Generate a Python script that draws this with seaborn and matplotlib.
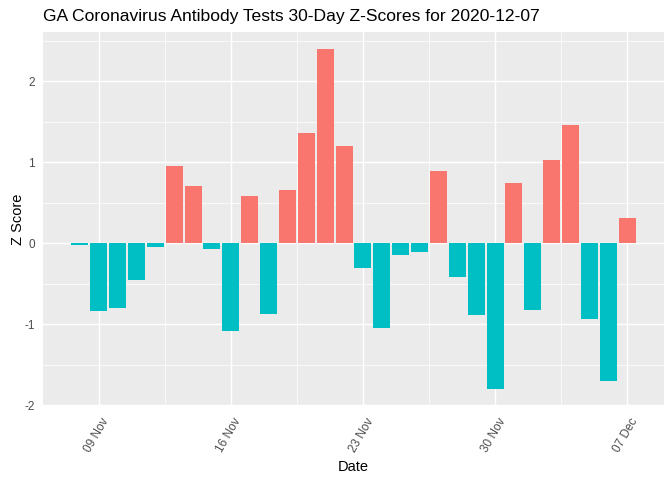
import matplotlib
matplotlib.use("Agg")
import matplotlib.pyplot as plt
import matplotlib.transforms as mtransforms
import seaborn as sns
import numpy as np
import pandas as pd

dates = pd.date_range("2020-11-08", "2020-12-07", freq="D")
z_scores = [-0.025, -0.84, -0.80, -0.46, -0.05, 0.95, 0.71, -0.075, -1.08, 0.58,
            -0.87, 0.66, 1.36, 2.40, 1.20, -0.31, -1.05, -0.15, -0.11, 0.89,
            -0.42, -0.89, -1.80, 0.74, -0.82, 1.03, 1.46, -0.93, -1.70, 0.31]
tick_dates = ["2020-11-09", "2020-11-16", "2020-11-23", "2020-11-30", "2020-12-07"]
tick_labels = ["09 Nov", "16 Nov", "23 Nov", "30 Nov", "07 Dec"]
title = "GA Coronavirus Antibody Tests 30-Day Z-Scores for 2020-12-07"

df = pd.DataFrame({"Date": dates.strftime("%Y-%m-%d"), "Z": z_scores})
df["pos"] = df["Z"] > 0

sns.set_style("whitegrid")
plt.rcParams["font.family"] = ["Liberation Sans", "DejaVu Sans"]

fig = plt.figure(figsize=(7, 5), dpi=96)
ax = fig.add_axes([43/672, 1 - 406/480, (664-43)/672, (406-31.7)/480])
ax.set_facecolor("#EBEBEB")

sns.barplot(data=df, x="Date", y="Z", hue="pos", dodge=False, width=0.9,
            palette={True: "#F8766D", False: "#00BFC4"}, legend=False,
            saturation=1, ax=ax, zorder=3)
for p in ax.patches:
    p.set_edgecolor("none")
    p.set_linewidth(0)

ax.set_xlim(-1.945, 30.945)
ax.set_ylim(-2.01, 2.61)

# gridlines
ax.grid(False)
date_list = list(df["Date"])
tick_pos = [date_list.index(d) for d in tick_dates]
for x in tick_pos:
    ax.axvline(x, color="white", lw=1.1, zorder=1)
for x in [4.5, 11.5, 18.5, 25.5]:
    ax.axvline(x, color="white", lw=0.55, zorder=1)
for y in [-2, -1, 0, 1, 2]:
    ax.axhline(y, color="white", lw=1.1, zorder=1)
for y in [-1.5, -0.5, 0.5, 1.5, 2.5]:
    ax.axhline(y, color="white", lw=0.55, zorder=1)

ax.set_xticks(tick_pos)
ax.set_xticklabels(tick_labels, rotation=60, ha="right", rotation_mode="anchor")
ax.set_yticks([-2, -1, 0, 1, 2])
ax.set_yticklabels(["-2", "-1", "0", "1", "2"])
ax.tick_params(axis="both", colors="#333333", labelcolor="#4D4D4D", labelsize=8.8,
               length=3.5, width=0.8, direction="out", pad=2.5)
shift = mtransforms.ScaledTranslation(2.5/96, -2/96, fig.dpi_scale_trans)
for lab in ax.get_xticklabels():
    lab.set_transform(lab.get_transform() + shift)
for s in ax.spines.values():
    s.set_visible(False)

ax.set_xlabel("Date", fontsize=11, color="black", labelpad=4)
ax.set_ylabel("Z Score", fontsize=11, color="black", labelpad=-0.5)
fig.text(43/672, 1 - 16/480, title, fontsize=13.1, color="black", ha="left", va="center")

fig.savefig("out.png", dpi=96, facecolor="white")
